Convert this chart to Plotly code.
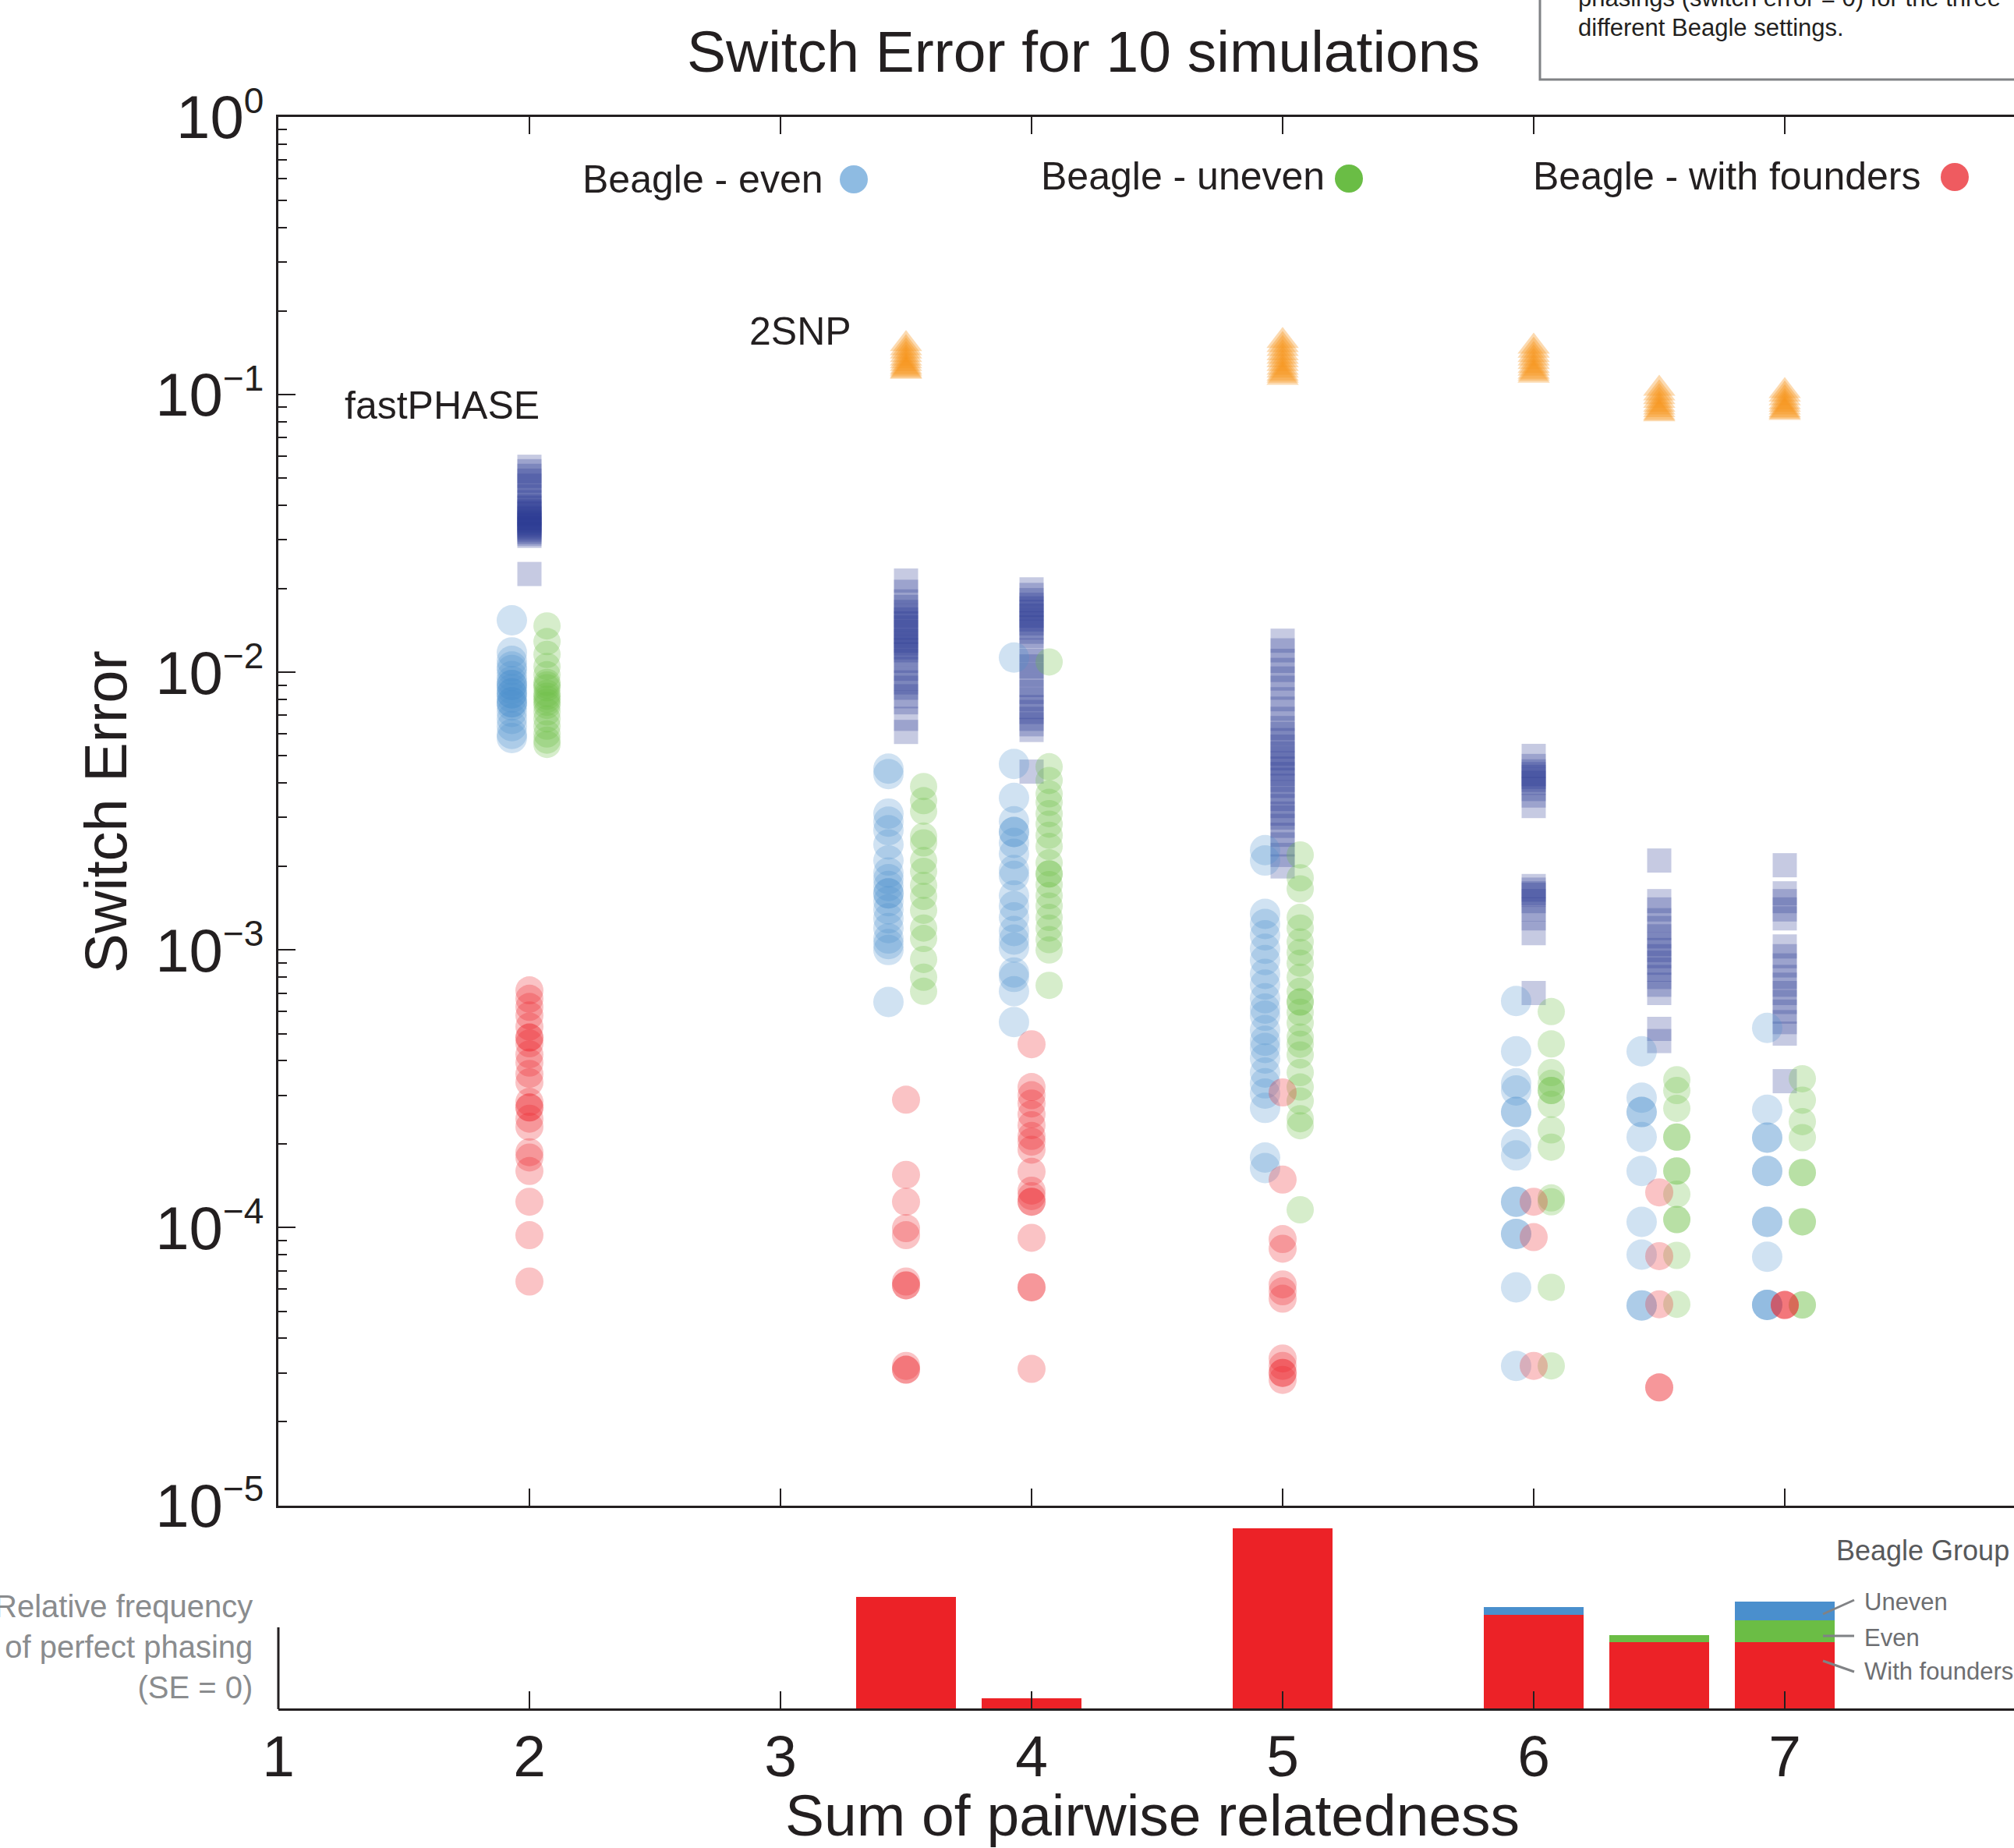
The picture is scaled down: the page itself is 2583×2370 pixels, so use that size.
import plotly.graph_objects as go

W, H = 2583, 2370

# ---------------- data ----------------
positions = [2, 3.5, 4, 5, 6, 6.5, 7]

fastphase_se = [
    [0.055, 0.053, 0.051, 0.049, 0.047, 0.045, 0.043, 0.041, 0.0395, 0.039, 0.038, 0.0375, 0.037, 0.036, 0.0355, 0.035, 0.0345, 0.034, 0.0335, 0.033, 0.0325, 0.032, 0.0315, 0.031, 0.0226],
    [0.0214, 0.0195, 0.018, 0.0172, 0.0165, 0.016, 0.0155, 0.015, 0.0145, 0.014, 0.0135, 0.013, 0.0127, 0.0123, 0.012, 0.0116, 0.011, 0.0103, 0.0095, 0.0092, 0.0088, 0.0082, 0.0078, 0.0068, 0.0061],
    [0.0199, 0.019, 0.0182, 0.0175, 0.017, 0.0165, 0.016, 0.0155, 0.015, 0.0145, 0.014, 0.0135, 0.012, 0.011, 0.0105, 0.0098, 0.009, 0.0085, 0.008, 0.0075, 0.0072, 0.0068, 0.0065, 0.0062, 0.00439],
    [0.013, 0.012, 0.011, 0.0102, 0.0095, 0.0088, 0.008, 0.0074, 0.0068, 0.0063, 0.006, 0.0057, 0.0054, 0.0051, 0.0049, 0.0047, 0.0045, 0.0043, 0.0041, 0.0039, 0.0037, 0.0035, 0.0033, 0.0031, 0.003, 0.0028, 0.0026, 0.0024, 0.0022, 0.002],
    [0.005, 0.0046, 0.0044, 0.0043, 0.0042, 0.0041, 0.004, 0.0038, 0.0036, 0.0033, 0.0017, 0.00165, 0.0016, 0.00158, 0.0015, 0.0014, 0.0013, 0.00115, 0.0007],
    [0.0021, 0.0015, 0.0014, 0.00128, 0.0012, 0.00112, 0.00105, 0.001, 0.00095, 0.0009, 0.00085, 0.0008, 0.00075, 0.0007, 0.00052, 0.00047],
    [0.00202, 0.0016, 0.0015, 0.0014, 0.0013, 0.00103, 0.00095, 0.00088, 0.0008, 0.00075, 0.0007, 0.00065, 0.0006, 0.00055, 0.0005, 0.000337],
]

even_se = [
    [0.0154, 0.0118, 0.011, 0.0105, 0.0102, 0.0097, 0.0093, 0.009, 0.009, 0.0087, 0.0084, 0.0084, 0.0081, 0.0078, 0.0078, 0.0076, 0.0072, 0.0068, 0.0064, 0.006, 0.0058],
    [0.0045, 0.0043, 0.0031, 0.0029, 0.0027, 0.0024, 0.0021, 0.0019, 0.0018, 0.0017, 0.0016, 0.0016, 0.0015, 0.0014, 0.0013, 0.0012, 0.0011, 0.00105, 0.001, 0.00065],
    [0.0113, 0.00468, 0.00353, 0.00291, 0.00266, 0.00266, 0.00243, 0.00222, 0.00194, 0.00185, 0.00157, 0.00144, 0.00131, 0.00117, 0.00109, 0.00102, 0.00083, 0.0008, 0.00071, 0.00055],
    [0.00229, 0.0021, 0.00135, 0.00124, 0.00113, 0.00101, 0.00092, 0.00082, 0.00075, 0.00067, 0.000615, 0.00058, 0.000515, 0.000471, 0.000444, 0.000407, 0.000362, 0.000331, 0.000304, 0.00027, 0.000179, 0.000164],
    [0.000655, 0.000432, 0.000331, 0.000312, 0.000261, 0.000261, 0.0002, 0.000182, 0.000124, 0.000124, 9.5e-5, 9.5e-5, 6.1e-5, 3.18e-5],
    [0.000432, 0.000294, 0.000261, 0.000261, 0.000212, 0.00016, 0.000105, 8.0e-5, 5.25e-5, 5.25e-5],
    [0.000524, 0.000266, 0.000211, 0.000211, 0.00016, 0.00016, 0.000105, 0.000105, 7.86e-5, 5.27e-5, 5.27e-5, 5.27e-5],
]

uneven_se = [
    [0.0147, 0.0129, 0.0116, 0.0105, 0.0098, 0.0092, 0.009, 0.0088, 0.0084, 0.0082, 0.008, 0.0078, 0.0076, 0.0072, 0.0068, 0.0064, 0.006, 0.0057, 0.0055],
    [0.00388, 0.00345, 0.00316, 0.00257, 0.00243, 0.0021, 0.00192, 0.00171, 0.00156, 0.00139, 0.0012, 0.0011, 0.000925, 0.000798, 0.00071],
    [0.0109, 0.00457, 0.00408, 0.00365, 0.0034, 0.0031, 0.00284, 0.00259, 0.00236, 0.00206, 0.00188, 0.00188, 0.00172, 0.00157, 0.00144, 0.00131, 0.0012, 0.00109, 0.001, 0.000746],
    [0.0022, 0.00182, 0.00166, 0.00131, 0.0012, 0.00107, 0.00098, 0.000897, 0.000798, 0.00071, 0.00065, 0.00065, 0.000597, 0.000546, 0.000486, 0.000458, 0.000419, 0.000362, 0.000321, 0.000286, 0.000247, 0.000233, 0.000116],
    [0.0006, 0.000459, 0.000362, 0.000331, 0.000312, 0.000312, 0.000278, 0.000225, 0.000195, 0.000128, 0.000124, 6.1e-5, 3.18e-5],
    [0.000341, 0.000312, 0.000269, 0.000212, 0.000212, 0.00016, 0.00016, 0.000132, 0.000107, 0.000107, 7.95e-5, 5.3e-5],
    [0.000344, 0.000288, 0.000241, 0.000211, 0.000158, 0.000158, 0.000105, 0.000105, 5.27e-5, 5.27e-5],
]

founders_se = [
    [7.16e-4, 6.68e-4, 6.24e-4, 5.81e-4, 5.3e-4, 4.84e-4, 4.84e-4, 4.61e-4, 4.21e-4, 3.93e-4, 3.58e-4, 3.34e-4, 2.84e-4, 2.71e-4, 2.71e-4, 2.47e-4, 2.31e-4, 1.87e-4, 1.79e-4, 1.6e-4, 1.24e-4, 9.4e-5, 6.4e-5],
    [2.89e-4, 1.55e-4, 1.24e-4, 9.96e-5, 9.4e-5, 6.4e-5, 6.2e-5, 6.2e-5, 3.18e-5, 3.08e-5, 3.08e-5],
    [4.58e-4, 3.21e-4, 3.0e-4, 2.8e-4, 2.56e-4, 2.34e-4, 2.14e-4, 2.04e-4, 1.91e-4, 1.59e-4, 1.36e-4, 1.3e-4, 1.24e-4, 1.24e-4, 9.2e-5, 6.1e-5, 6.1e-5, 3.1e-5],
    [3.07e-4, 1.49e-4, 9.1e-5, 8.4e-5, 6.25e-5, 5.9e-5, 5.55e-5, 3.38e-5, 3.18e-5, 3.0e-5, 3.0e-5, 2.83e-5],
    [1.24e-4, 9.25e-5, 3.18e-5],
    [1.34e-4, 7.9e-5, 5.3e-5, 2.66e-5, 2.66e-5],
    [5.27e-5, 5.27e-5, 5.27e-5],
]

twosnp_positions = [3.5, 5, 6, 6.5, 7]
twosnp_se = [
    [0.152, 0.147, 0.143, 0.139, 0.135, 0.132, 0.129, 0.126, 0.124, 0.122, 0.121],
    [0.156, 0.151, 0.146, 0.141, 0.137, 0.133, 0.129, 0.125, 0.122, 0.119, 0.117, 0.115],
    [0.149, 0.144, 0.139, 0.135, 0.131, 0.127, 0.124, 0.121, 0.119, 0.117],
    [0.105, 0.101, 0.098, 0.095, 0.092, 0.09, 0.088, 0.086, 0.085],
    [0.103, 0.1, 0.097, 0.094, 0.092, 0.09, 0.088, 0.087, 0.086],
]

bar_x = [3.5, 4, 5, 6, 6.5, 7]
perfect_founders = [0.62, 0.057, 1.0, 0.52, 0.37, 0.368]
perfect_even = [0, 0, 0, 0, 0.036, 0.121]
perfect_uneven = [0, 0, 0, 0.043, 0, 0.104]

x_tick_vals = [1, 2, 3, 4, 5, 6, 7]
x_tick_text = ["1", "2", "3", "4", "5", "6", "7"]
y_tick_vals = [1e-5, 1e-4, 1e-3, 1e-2, 1e-1, 1]
y_tick_exp = ["\u22125", "\u22124", "\u22123", "\u22122", "\u22121", "0"]

# ---------------- styling ----------------
FONT = "Liberation Sans, Arial, Helvetica, sans-serif"
INK = "#231F20"
NAVY = "rgba(46,58,148,0.27)"
BLUE = "rgba(74,143,205,0.26)"
GREEN = "rgba(107,189,69,0.28)"
RED = "rgba(236,34,39,0.27)"
ORANGE = "rgba(247,148,30,0.35)"
BAR_RED = "#EC2227"
BAR_GREEN = "#6BBD45"
BAR_BLUE = "#4A8FCD"
OFFSET = 0.07

y_tick_text = ["10<sup><span style='font-size:46px'>%s</span></sup>" % e for e in y_tick_exp]


def px(x):
    return x / W


def py(y):
    return 1 - y / H


def expand(pos_list, groups, offset=0.0):
    xs, ys = [], []
    for p, vals in zip(pos_list, groups):
        xs += [p + offset] * len(vals)
        ys += list(vals)
    return xs, ys


fig = go.Figure()

fx, fy = expand(positions, fastphase_se)
fig.add_trace(go.Scatter(x=fx, y=fy, mode="markers", name="fastPHASE",
                         marker=dict(symbol="square", size=31, color=NAVY, line=dict(width=0))))
ex, ey = expand(positions, even_se, -OFFSET)
fig.add_trace(go.Scatter(x=ex, y=ey, mode="markers", name="Beagle - even",
                         marker=dict(symbol="circle", size=39, color=BLUE, line=dict(width=0))))
ux, uy = expand(positions, uneven_se, OFFSET)
fig.add_trace(go.Scatter(x=ux, y=uy, mode="markers", name="Beagle - uneven",
                         marker=dict(symbol="circle", size=35, color=GREEN, line=dict(width=0))))
rx, ry = expand(positions, founders_se)
fig.add_trace(go.Scatter(x=rx, y=ry, mode="markers", name="Beagle - with founders",
                         marker=dict(symbol="circle", size=36, color=RED, line=dict(width=0))))
tx, ty = expand(twosnp_positions, twosnp_se)
fig.add_trace(go.Scatter(x=tx, y=ty, mode="markers", name="2SNP",
                         marker=dict(symbol="triangle-up", size=36, color=ORANGE, line=dict(width=0))))

fig.add_trace(go.Bar(x=bar_x, y=perfect_founders, xaxis="x2", yaxis="y2", width=0.4,
                     marker=dict(color=BAR_RED, line=dict(width=0)), name="With founders"))
fig.add_trace(go.Bar(x=bar_x, y=perfect_even, xaxis="x2", yaxis="y2", width=0.4,
                     marker=dict(color=BAR_GREEN, line=dict(width=0)), name="Even"))
fig.add_trace(go.Bar(x=bar_x, y=perfect_uneven, xaxis="x2", yaxis="y2", width=0.4,
                     marker=dict(color=BAR_BLUE, line=dict(width=0)), name="Uneven"))

x_left = px(357)
xrange = [1, 1 + (W - 357) / 322.0]
minor_vals = [k * 10.0 ** e for e in range(-5, 0) for k in range(2, 10)]

fig.update_layout(
    width=W, height=H,
    margin=dict(l=0, r=0, t=0, b=0, pad=0, autoexpand=False),
    paper_bgcolor="white", plot_bgcolor="rgba(0,0,0,0)",
    showlegend=False, barmode="stack", bargap=0,
    font=dict(family=FONT, color=INK),
    xaxis=dict(domain=[x_left, 1], range=xrange, anchor="y",
               showline=True, linewidth=3, linecolor=INK, mirror="ticks",
               ticks="inside", ticklen=22, tickwidth=2, tickcolor=INK,
               tickvals=x_tick_vals, showticklabels=False,
               showgrid=False, zeroline=False),
    yaxis=dict(domain=[py(1930.6), py(150)], type="log", range=[-5, 0], anchor="x",
               showline=True, linewidth=3, linecolor=INK,
               ticks="inside", ticklen=22, tickwidth=2, tickcolor=INK,
               tickvals=y_tick_vals, ticktext=y_tick_text,
               tickfont=dict(size=78, color=INK, family=FONT), ticklabelstandoff=0,
               minor=dict(tickvals=minor_vals, ticks="inside", ticklen=11, tickwidth=2,
                          tickcolor=INK, showgrid=False),
               showgrid=False, zeroline=False),
    xaxis2=dict(domain=[x_left, 1], range=xrange, anchor="y2",
                showline=True, linewidth=3, linecolor=INK,
                ticks="inside", ticklen=22, tickwidth=2, tickcolor=INK,
                tickvals=x_tick_vals, ticktext=x_tick_text,
                tickfont=dict(size=75, color=INK, family=FONT), ticklabelstandoff=-6,
                showgrid=False, zeroline=False),
    yaxis2=dict(domain=[py(2191), py(1960)], range=[0, 1], anchor="x2", visible=False),
)

annotations = []


def note(text, x, y, size, color=INK, xanchor="center", yanchor="middle", angle=0, align="center"):
    annotations.append(dict(text=text, x=px(x), y=py(y), xref="paper", yref="paper",
                            xanchor=xanchor, yanchor=yanchor, showarrow=False,
                            textangle=angle, align=align,
                            font=dict(size=size, color=color, family=FONT)))


note("Switch Error for 10 simulations", 1390, 66, 75)
note("Switch Error", 135, 1041, 76, angle=-90)
note("Sum of pairwise relatedness", 1478, 2328, 75)
note("Beagle - even", 745, 230, 50, xanchor="left")
note("Beagle - uneven", 1333, 226, 50, xanchor="left")
note("Beagle - with founders", 1964, 226, 50, xanchor="left")
note("fastPHASE", 440, 520, 50, xanchor="left")
note("2SNP", 959, 425, 50, xanchor="left")
note("Relative frequency<br>of perfect phasing<br>(SE = 0)", 326, 2112, 40, color="#8A8C8E",
     xanchor="right", align="right")
note("Beagle Group", 2353, 1988, 36, color="#58595B", xanchor="left")
note("Uneven", 2389, 2054, 31, color="#6D6E71", xanchor="left")
note("Even", 2389, 2100, 31, color="#6D6E71", xanchor="left")
note("With founders", 2389, 2143, 31, color="#6D6E71", xanchor="left")
note("phasings (switch error = 0) for the three", 2022, -2, 31, xanchor="left")
note("different Beagle settings.", 2022, 35, 31, xanchor="left")
fig.update_layout(annotations=annotations)

shapes = []


def dot(cx, cy, d, color):
    shapes.append(dict(type="circle", xref="paper", yref="paper",
                       x0=px(cx - d / 2), x1=px(cx + d / 2), y0=py(cy + d / 2), y1=py(cy - d / 2),
                       fillcolor=color, line=dict(width=0)))


def seg(x0, y0, x1, y1, color, width):
    shapes.append(dict(type="line", xref="paper", yref="paper",
                       x0=px(x0), y0=py(y0), x1=px(x1), y1=py(y1),
                       line=dict(color=color, width=width)))


dot(1095, 230, 36, "#8EBBE2")
dot(1730, 229, 36, "#6ABD45")
dot(2507, 227, 36, "#EF5B60")
seg(357, 2087, 357, 2192, INK, 3)
seg(2338, 2070, 2378, 2052, "#808285", 3)
seg(2338, 2098, 2378, 2098, "#808285", 3)
seg(2338, 2130, 2378, 2144, "#808285", 3)
shapes.append(dict(type="rect", xref="paper", yref="paper",
                   x0=px(1975), x1=px(2620), y0=py(102), y1=py(-30),
                   fillcolor="rgba(0,0,0,0)", line=dict(color="#808285", width=3)))
fig.update_layout(shapes=shapes)

fig.write_html("out.html", config={"displayModeBar": False},
               post_script="document.body.style.margin='0px';document.body.style.overflow='hidden';")
